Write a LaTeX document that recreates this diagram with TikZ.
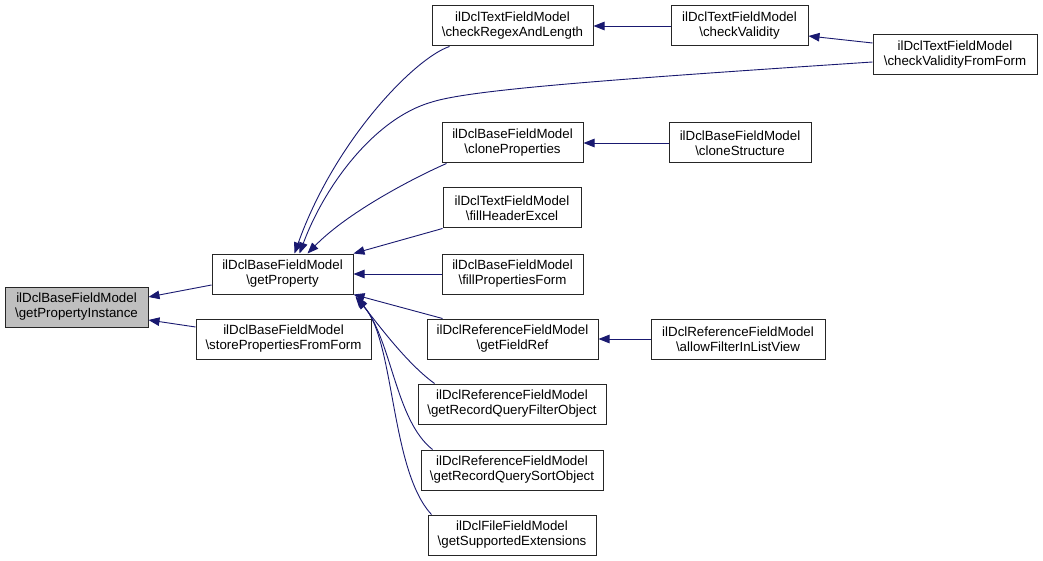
\documentclass[tikz,border=0pt]{standalone}
\usepackage{fontspec}
\setmainfont{Liberation Sans}
\usetikzlibrary{arrows.meta,calc}
\definecolor{navy}{HTML}{191970}
\definecolor{rootgray}{HTML}{BFBFBF}
\begin{document}
\begin{tikzpicture}[x=1pt,y=-1pt,
  box/.style={draw=black!85, line width=1pt, align=center, inner sep=0pt,
    minimum height=40pt, font={\fontsize{13.3}{15}\selectfont}},
  edge/.style={draw=navy, line width=0.9pt, -{Triangle[length=11pt,width=8.5pt]}}]
\useasboundingbox (0,0) rectangle (1043,561);
\fill[white] (0,0) rectangle (1043,561);
% nodes
\node[box, fill=rootgray, minimum width=143pt] (gpi) at (76.5,307) {ilDclBaseFieldModel\\\textbackslash getPropertyInstance};
\node[box, minimum width=141pt] (gp) at (282.5,274) {ilDclBaseFieldModel\\\textbackslash getProperty};
\node[box, minimum width=175pt] (spf) at (283.5,339) {ilDclBaseFieldModel\\\textbackslash storePropertiesFromForm};
\node[box, minimum width=161pt] (crl) at (512.5,26) {ilDclTextFieldModel\\\textbackslash checkRegexAndLength};
\node[box, minimum width=141pt] (cp) at (512.5,143) {ilDclBaseFieldModel\\\textbackslash cloneProperties};
\node[box, minimum width=138pt] (fhe) at (512,208) {ilDclTextFieldModel\\\textbackslash fillHeaderExcel};
\node[box, minimum width=141pt] (fpf) at (512.5,274) {ilDclBaseFieldModel\\\textbackslash fillPropertiesForm};
\node[box, minimum width=171pt] (gfr) at (512.5,339) {ilDclReferenceFieldModel\\\textbackslash getFieldRef};
\node[box, minimum width=188pt] (gqf) at (512,404) {ilDclReferenceFieldModel\\\textbackslash getRecordQueryFilterObject};
\node[box, minimum width=182pt] (gqs) at (512,470) {ilDclReferenceFieldModel\\\textbackslash getRecordQuerySortObject};
\node[box, minimum width=168pt] (gse) at (512,535) {ilDclFileFieldModel\\\textbackslash getSupportedExtensions};
\node[box, minimum width=137pt] (cv) at (739.5,26) {ilDclTextFieldModel\\\textbackslash checkValidity};
\node[box, minimum width=164pt] (cvf) at (955,55) {ilDclTextFieldModel\\\textbackslash checkValidityFromForm};
\node[box, minimum width=142pt] (cs) at (740,143) {ilDclBaseFieldModel\\\textbackslash cloneStructure};
\node[box, minimum width=174pt] (afl) at (738,339) {ilDclReferenceFieldModel\\\textbackslash allowFilterInListView};
\coordinate (bend) at (432,102);
% edges
\draw[edge] ([yshift=-11pt]gp.west) -- ([yshift=10pt]gpi.east);
\draw[edge] ([yshift=12pt]spf.west) -- ([yshift=-13pt]gpi.east);
\draw[edge] ([xshift=18pt]crl.south west) .. controls (415,58) and (335,140) .. ([xshift=83pt]gp.north west);
\draw[edge] ([yshift=-7pt]cvf.west) .. controls (600,80) and (470,90) .. (bend)
  .. controls (375,118) and (325,185) .. ([xshift=88pt]gp.north west);
\draw[edge] ([xshift=5pt]cp.south west) .. controls (420,175) and (350,210) .. ([xshift=96pt]gp.north west);
\draw[edge] (fhe.south west) -- (gp.north east);
\draw[edge] (fpf.west) -- (gp.east);
\draw[edge] ([xshift=16pt]gfr.north west) -- (gp.south east);
\draw[edge] ([xshift=17pt]gqf.north west) .. controls (405,362) and (375,320) .. ([xshift=2pt,yshift=-2pt]gp.south east);
\draw[edge] ([xshift=12pt]gqs.north west) .. controls (395,420) and (392,340) .. ([xshift=3pt,yshift=-3pt]gp.south east);
\draw[edge] ([xshift=4pt]gse.north west) .. controls (390,470) and (395,340) .. ([xshift=3pt,yshift=-4pt]gp.south east);
\draw[edge] (cv.west) -- (crl.east);
\draw[edge] ([yshift=12pt]cvf.west) -- ([yshift=-10pt]cv.east);
\draw[edge] (cs.west) -- (cp.east);
\draw[edge] (afl.west) -- (gfr.east);
\end{tikzpicture}
\end{document}
